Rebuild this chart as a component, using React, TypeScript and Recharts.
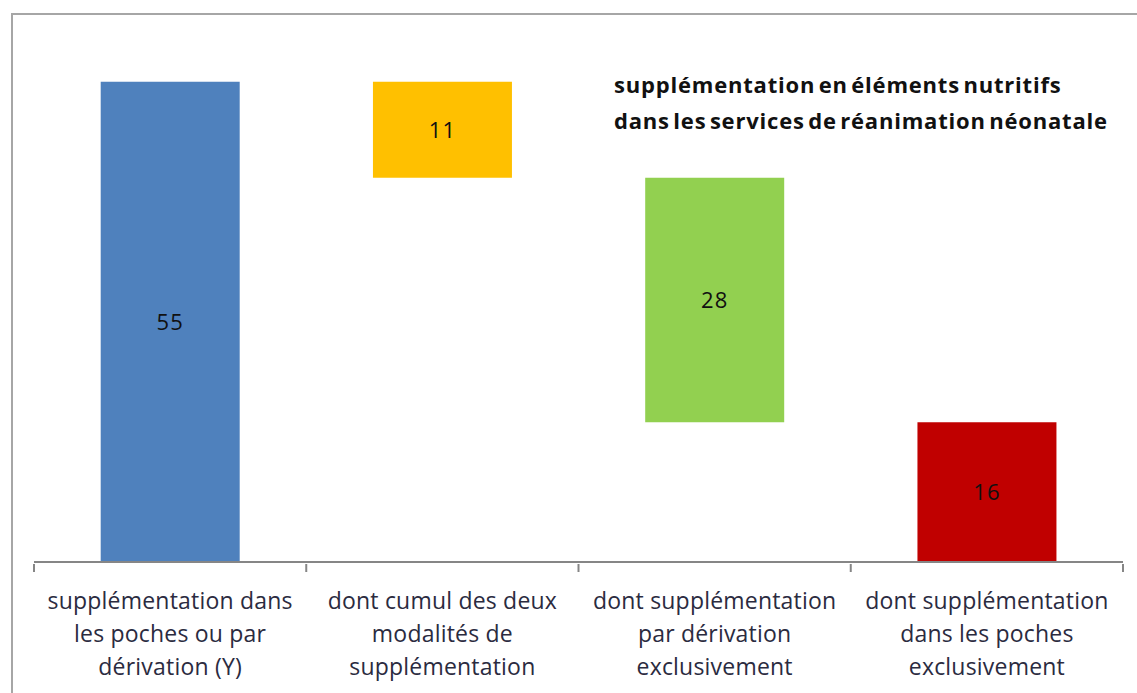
import React from 'react';
import { BarChart, Bar, XAxis, YAxis, LabelList, Cell } from 'recharts';

const categories = [
  'supplémentation dans\nles poches ou par\ndérivation (Y)',
  'dont cumul des deux\nmodalités de\nsupplémentation',
  'dont supplémentation\npar dérivation\nexclusivement',
  'dont supplémentation\ndans les poches\nexclusivement',
];
const offsets = [0, 44, 16, 0];
const values = [55, 11, 28, 16];
const barColors = ['#4f81bd', '#ffc000', '#92d050', '#c00000'];
const titleLines = [
  'supplémentation en éléments nutritifs',
  'dans les services de réanimation néonatale',
];

const FONT = '"Open Sans", Lato, sans-serif';
const AXIS = '#868686';

const data = categories.map((c, i) => ({
  name: c,
  base: offsets[i],
  value: values[i],
}));

// ticks sit on category boundaries, labels in the middle
function CategoryTick(props: any) {
  const { x, y, payload, index, width, visibleTicksCount } = props;
  const band = width / visibleTicksCount;
  const lines = String(payload.value).split('\n');
  return (
    <g transform={`translate(${x},${y})`}>
      <line x1={-band / 2} x2={-band / 2} y1={-8} y2={0} stroke={AXIS} strokeWidth={2} />
      {index === visibleTicksCount - 1 && (
        <line x1={band / 2} x2={band / 2} y1={-8} y2={0} stroke={AXIS} strokeWidth={2} />
      )}
      <text textAnchor="middle" fill="#2b2b3f" fontSize={23} letterSpacing={0.2} fontFamily={FONT}>
        {lines.map((l, i) => (
          <tspan key={i} x={0} y={37 + i * 33}>{l}</tspan>
        ))}
      </text>
    </g>
  );
}

export default function App() {
  return (
    <div style={{ position: 'absolute', left: 0, top: 0, width: 1137, height: 693, overflow: 'hidden', background: '#fff' }}>
      <div style={{
        position: 'absolute', left: 11, top: 13, width: 1150, height: 720,
        border: '2px solid #a6a6a6', boxSizing: 'border-box',
      }} />
      <div style={{
        position: 'absolute', left: 614, top: 66, fontFamily: FONT, fontWeight: 700,
        fontSize: 22, lineHeight: '36px', color: '#111', whiteSpace: 'nowrap',
        letterSpacing: 0.8, wordSpacing: -3,
      }}>
        {titleLines.map((t) => <div key={t}>{t}</div>)}
      </div>
      <div style={{ position: 'absolute', left: 0, top: 0 }}>
        <BarChart
          width={1137}
          height={693}
          data={data}
          margin={{ top: 38, right: 14, bottom: 11, left: 34 }}
          barCategoryGap="24.5%"
        >
          <XAxis
            dataKey="name"
            height={120}
            interval={0}
            tick={<CategoryTick />}
            axisLine={{ stroke: AXIS, strokeWidth: 2 }}
            tickLine={false}
            tickSize={8}
          />
          <YAxis hide domain={[0, 60]} />
          <Bar dataKey="base" stackId="w" fill="transparent" isAnimationActive={false} />
          <Bar dataKey="value" stackId="w" isAnimationActive={false}>
            {data.map((d, i) => <Cell key={d.name} fill={barColors[i]} />)}
            <LabelList dataKey="value" position="center" fill="#111" fontSize={22} letterSpacing={1} fontFamily={FONT} />
          </Bar>
        </BarChart>
      </div>
    </div>
  );
}
